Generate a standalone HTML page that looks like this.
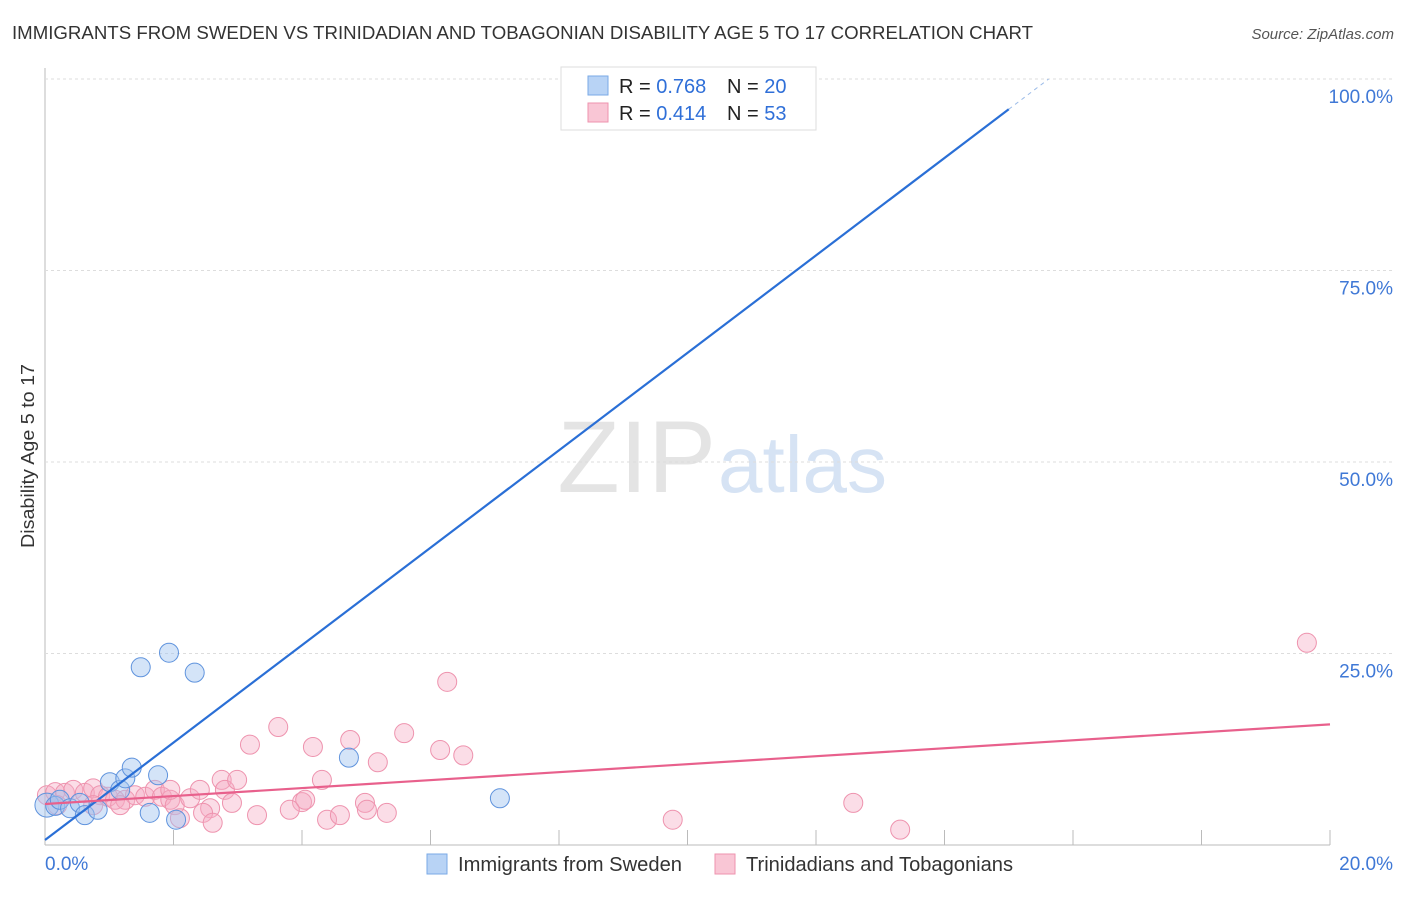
<!DOCTYPE html>
<html><head><meta charset="utf-8"><style>
body{margin:0;background:#fff;font-family:"Liberation Sans",sans-serif;}
svg text{font-family:"Liberation Sans",sans-serif;}
</style></head><body>
<svg id="c" width="1406" height="892">
<text x="12" y="39" font-size="18.5" fill="#333" textLength="1021" lengthAdjust="spacingAndGlyphs">IMMIGRANTS FROM SWEDEN VS TRINIDADIAN AND TOBAGONIAN DISABILITY AGE 5 TO 17 CORRELATION CHART</text>
<text x="1394" y="39" font-size="15" fill="#555" font-style="italic" text-anchor="end">Source: ZipAtlas.com</text>
<text x="716" y="492" font-size="102" fill="#e4e4e4" text-anchor="end" font-family="Liberation Serif">ZIP</text>
<text x="718" y="492" font-size="80" fill="#d6e3f4">atlas</text>
<text transform="translate(34,456) rotate(-90)" font-size="18" fill="#333" text-anchor="middle" textLength="184" lengthAdjust="spacingAndGlyphs">Disability Age 5 to 17</text>
<g id="grid"></g><g id="pts"></g><g id="lines"></g>
<g>
<rect x="561" y="67" width="255" height="63" fill="#fff" stroke="#ddd"/>
<rect x="588" y="76" width="20" height="19" fill="#b8d3f5" stroke="#7aa9e6"/>
<rect x="588" y="103" width="20" height="19" fill="#f9c6d5" stroke="#ee93ae"/>
<text x="619" y="93" font-size="20" fill="#222">R = <tspan fill="#2f6fd8">0.768</tspan></text>
<text x="727" y="93" font-size="20" fill="#222">N = <tspan fill="#2f6fd8">20</tspan></text>
<text x="619" y="120" font-size="20" fill="#222">R = <tspan fill="#2f6fd8">0.414</tspan></text>
<text x="727" y="120" font-size="20" fill="#222">N = <tspan fill="#2f6fd8">53</tspan></text>
</g>
<g>
<rect x="427" y="854" width="20" height="20" fill="#b8d3f5" stroke="#7aa9e6"/>
<text x="458" y="871" font-size="20" fill="#333" textLength="224" lengthAdjust="spacingAndGlyphs">Immigrants from Sweden</text>
<rect x="715" y="854" width="20" height="20" fill="#f9c6d5" stroke="#ee93ae"/>
<text x="746" y="871" font-size="20" fill="#333" textLength="267" lengthAdjust="spacingAndGlyphs">Trinidadians and Tobagonians</text>
</g>
</svg>
<script>
const yTicks=[25,50,75,100];
const yTickLabels=["25.0%","50.0%","75.0%","100.0%"];
const xTickLabels=["0.0%","20.0%"];
const blueX=[0.03,0.16,0.23,0.39,0.54,0.62,0.82,1.01,1.17,1.25,1.35,1.49,1.63,1.76,1.93,2.04,2.33,4.73,7.08,10.52];
const blueY=[5.2,5.1,5.9,4.8,5.5,3.9,4.6,8.2,7.2,8.7,10.1,23.2,4.2,9.1,25.1,3.3,22.5,11.4,6.1,100];
const pinkX=[0.03,0.16,0.31,0.44,0.62,0.75,0.86,0.98,1.09,1.25,1.40,1.56,1.71,1.82,1.95,2.02,2.10,2.26,2.41,2.57,2.75,2.80,2.91,2.99,3.19,3.30,3.63,4.00,4.05,4.17,4.31,4.39,4.59,4.75,4.98,5.01,5.18,5.32,5.59,6.15,6.26,6.51,9.77,12.58,13.31,19.64,0.19,1.17,2.46,2.61,1.95,3.81,0.75];
const pinkY=[6.5,6.9,6.8,7.2,6.8,7.4,6.5,6.3,5.9,5.9,6.5,6.3,7.2,6.3,5.9,5.2,3.5,6.1,7.2,4.8,8.5,7.2,5.5,8.5,13.1,3.9,15.4,5.6,5.9,12.8,8.5,3.3,3.9,13.7,5.5,4.6,10.8,4.2,14.6,12.4,21.3,11.7,3.3,5.5,2.0,26.4,5.2,5.2,4.2,2.9,7.2,4.6,5.2];
const blueTrend=[0.65,6.36];
const pinkTrend=[5.35,0.52];
const X=v=>45+v*64.25, Y=v=>845-v*7.66;
const NS="http://www.w3.org/2000/svg";
function mk(p,t,a){const e=document.createElementNS(NS,t);for(const k in a)e.setAttribute(k,a[k]);p.appendChild(e);return e;}
const g=document.getElementById('grid');
let ax=mk(g,'line',{x1:45,y1:68,x2:45,y2:845,stroke:'#bbb'});


let bx=mk(g,'line',{x1:45,y1:845,x2:1330,y2:845,stroke:'#bbb'});


yTicks.forEach((t,i)=>{
 const l=mk(g,'line',{x1:45,y1:Y(t),x2:1394,y2:Y(t),stroke:'#ddd','stroke-dasharray':'3,3'});
 
 
 const tx=mk(g,'text',{x:1393,y:Y(t)+24,'font-size':19,fill:'#3f78d6','text-anchor':'end'});
 tx.textContent=yTickLabels[i];
 
 
});
for(let i=1;i<=10;i++){
 const l=mk(g,'line',{x1:X(i*2),y1:830,x2:X(i*2),y2:845,stroke:'#bbb'});
 
 
}
let t0=mk(g,'text',{x:45,y:870,'font-size':19,fill:'#3f78d6'});t0.textContent=xTickLabels[0];


let t1=mk(g,'text',{x:1393,y:870,'font-size':19,fill:'#3f78d6','text-anchor':'end'});t1.textContent=xTickLabels[1];


const pg=document.getElementById('pts');
pinkX.forEach((x,i)=>{const c=mk(pg,'circle',{cx:X(x),cy:Y(pinkY[i]),r:9.5,fill:'rgba(246,170,195,0.4)',stroke:'#ee93ae','stroke-width':1});
 
 });
blueX.forEach((x,i)=>{const c=mk(pg,'circle',{cx:X(x),cy:Y(blueY[i]),r:i==0?12:9.5,fill:'rgba(160,195,240,0.45)',stroke:'#5f93dd','stroke-width':1});
 
 });
const lg=document.getElementById('lines');
const xEnd=(100-blueTrend[0])/blueTrend[1], xSolid=15.0;
let bl=mk(lg,'line',{x1:X(0),y1:Y(blueTrend[0]),x2:X(xSolid),y2:Y(blueTrend[0]+blueTrend[1]*xSolid),stroke:'#2a6fd6','stroke-width':2.2});


let bd=mk(lg,'line',{x1:X(xSolid),y1:Y(blueTrend[0]+blueTrend[1]*xSolid),x2:X(xEnd),y2:Y(100),stroke:'#9bbbe8','stroke-width':1,'stroke-dasharray':'4,4'});


let pl=mk(lg,'line',{x1:X(0),y1:Y(pinkTrend[0]),x2:X(20),y2:Y(pinkTrend[0]+pinkTrend[1]*20),stroke:'#e8608c','stroke-width':2.2});


</script>
</body></html>
